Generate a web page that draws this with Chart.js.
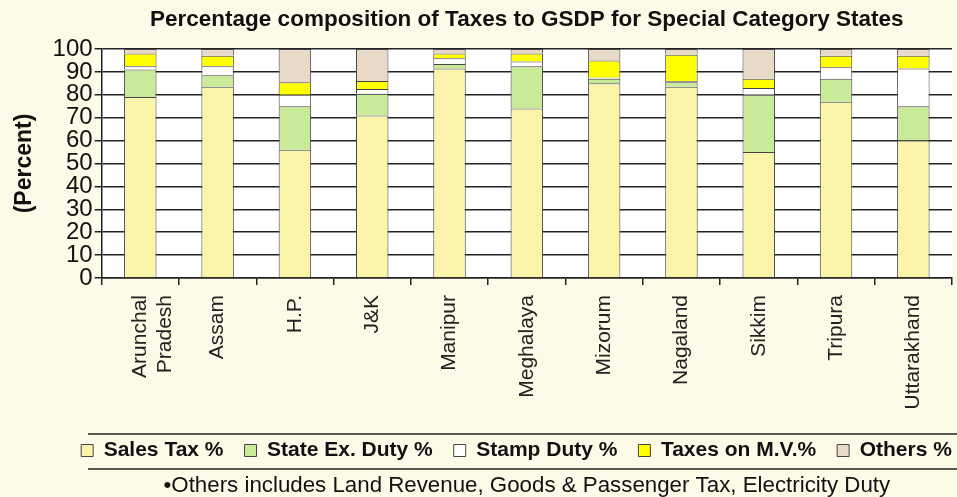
<!DOCTYPE html>
<html>
<head>
<meta charset="utf-8">
<script src="https://cdn.jsdelivr.net/npm/chart.js@4"></script>
<style>
  html, body { margin: 0; padding: 0; background: #fdfbe8; }
  #wrap { width: 957px; height: 497px; }
</style>
</head>
<body>
<div id="wrap"><canvas id="taxes"></canvas></div>
<script>
var states = [['Arunchal', 'Pradesh'], 'Assam', 'H.P.', 'J&K', 'Manipur', 'Meghalaya', 'Mizorum', 'Nagaland', 'Sikkim', 'Tripura', 'Uttarakhand'];

// percentage shares
var salesTax     = [79, 83.5, 56, 71, 91.5, 74, 85, 83.5, 55, 77, 60];
var stateExDuty  = [12, 5, 19, 9.5, 2, 18.5, 2, 2, 25, 10, 15];
var stampDuty    = [1.5, 4, 5, 2, 2.5, 2, 0.5, 0.5, 3, 5, 16.5];
var taxesOnMV    = [5.5, 4.5, 5.5, 3.5, 2, 3.5, 7.5, 11.5, 4, 5, 5.5];
var others       = [2, 3, 14.5, 14, 2, 2, 5, 2.5, 13, 3, 3];

var yTicks = [0, 10, 20, 30, 40, 50, 60, 70, 80, 90, 100];

var titleText = 'Percentage composition of Taxes to GSDP for Special Category States';
var footText = '\u2022Others includes Land Revenue, Goods & Passenger Tax, Electricity Duty';

var FONT = '"Liberation Sans", Arial, sans-serif';

// white plot area, title and footnote centred on the plot, rules around the legend
var decor = {
    id: 'decor',
    afterLayout: function (chart) {
        // widen/shift the legend box so the row sits under the plot like the original
        chart.legend.left = 53;
        chart.legend.right = 980;
    },
    beforeDraw: function (chart) {
        var c = chart.ctx, a = chart.chartArea;
        c.save();
        c.fillStyle = '#ffffff';
        c.fillRect(a.left, a.top, a.right - a.left, a.bottom - a.top);
        c.restore();
    },
    afterDraw: function (chart) {
        var c = chart.ctx, a = chart.chartArea;
        var mid = (a.left + a.right) / 2;
        c.save();
        c.fillStyle = '#111';
        c.textAlign = 'center';
        c.textBaseline = 'middle';
        c.font = 'bold 22.5px ' + FONT;
        c.fillText(titleText, mid, 20);
        c.font = '22.3px ' + FONT;
        c.fillText(footText, mid, 486);
        c.strokeStyle = '#222';
        c.lineWidth = 1.5;
        c.beginPath();
        c.moveTo(88, 434);
        c.lineTo(957, 434);
        c.moveTo(88, 469);
        c.lineTo(957, 469);
        c.stroke();
        c.restore();
    }
};

var ctx = document.getElementById('taxes').getContext('2d');
var chart = new Chart(ctx, {
    type: 'bar',
    data: {
        labels: states,
        datasets: [
            { label: 'Sales Tax %', data: salesTax, backgroundColor: '#f9f4aa' },
            { label: 'State Ex. Duty %', data: stateExDuty, backgroundColor: '#c9ea98' },
            { label: 'Stamp Duty %', data: stampDuty, backgroundColor: '#ffffff' },
            { label: 'Taxes on M.V.%', data: taxesOnMV, backgroundColor: '#ffff00' },
            { label: 'Others %', data: others, backgroundColor: '#e9d9c8' }
        ]
    },
    options: {
        responsive: true,
        maintainAspectRatio: false,
        animation: false,
        layout: { padding: { top: 49, left: 11, right: 5, bottom: 26 } },
        datasets: {
            bar: {
                borderColor: '#444',
                borderWidth: 1,
                categoryPercentage: 1,
                barPercentage: 0.42
            }
        },
        plugins: {
            title: { display: false },
            legend: {
                position: 'bottom',
                fullSize: true,
                labels: {
                    color: '#111',
                    font: { family: FONT, size: 21, weight: 'bold' },
                    boxWidth: 12,
                    boxHeight: 12,
                    padding: 21
                }
            },
            tooltip: { enabled: false }
        },
        scales: {
            x: {
                stacked: true,
                border: { color: '#222', width: 1.5 },
                grid: { drawOnChartArea: false, drawTicks: true, tickLength: 7, color: '#222', lineWidth: 1.5, offset: true },
                afterFit: function (axis) {
                    axis.height = 141;
                },
                ticks: {
                    color: '#222',
                    minRotation: 90,
                    maxRotation: 90,
                    padding: 10,
                    font: { family: FONT, size: 21 }
                }
            },
            y: {
                stacked: true,
                min: 0,
                max: 100,
                border: { color: '#222', width: 1.5 },
                grid: { color: '#222', lineWidth: 1.5, tickLength: 7 },
                afterBuildTicks: function (axis) {
                    axis.ticks = yTicks.map(function (v) { return { value: v }; });
                },
                ticks: {
                    color: '#111',
                    autoSkip: false,
                    padding: 2,
                    font: { family: FONT, size: 24 }
                },
                title: {
                    display: true,
                    text: '(Percent)',
                    color: '#111',
                    font: { family: FONT, size: 23, weight: 'bold' },
                    padding: { top: 0, bottom: 12 }
                }
            }
        }
    },
    plugins: [decor]
});
</script>
</body>
</html>
